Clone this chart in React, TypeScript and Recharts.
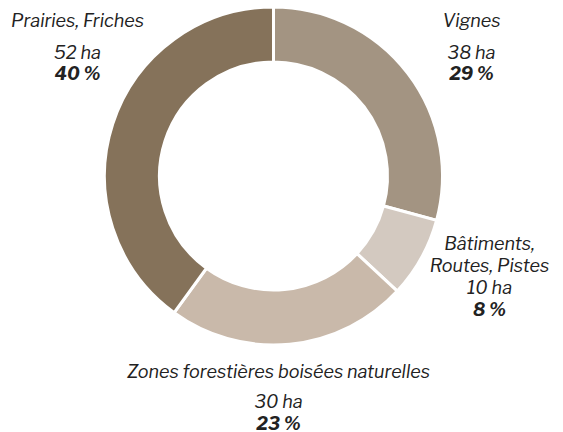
import { PieChart, Pie, Cell } from "recharts";

const categories = ["Vignes", "Bâtiments, Routes, Pistes", "Zones forestières boisées naturelles", "Prairies, Friches"];
const hectares = [38, 10, 30, 52];
const colors = ["#a39482", "#d3c9c0", "#c9b9aa", "#85725a"];

// label name lines (split as in the original)
const nameLines = [["Vignes"], ["Bâtiments,", "Routes, Pistes"], ["Zones forestières boisées naturelles"], ["Prairies, Friches"]];

const total = hectares.reduce((a, b) => a + b, 0);
const data = categories.map((name, i) => ({
  name,
  value: hectares[i],
  pct: Math.round((hectares[i] / total) * 100),
}));

// label anchor offsets from the pie centre, and gap after the name block
const LABEL_LAYOUT = [
  { dx: 198, dy: -149, gap: 31.5 },
  { dx: 216, dy: 74, gap: 22 },
  { dx: 5, dy: 202, gap: 30 },
  { dx: -196, dy: -149, gap: 31.5 },
];

const FONT = "'Libre Franklin', Roboto, 'Noto Sans', sans-serif";

function renderLabel(props: any) {
  const { cx, cy, index } = props;
  const l = LABEL_LAYOUT[index];
  const d = data[index];
  const x = cx + l.dx;
  const y = cy + l.dy;
  const lines = nameLines[index];
  const nameYs = lines.map((_, i) => y + i * 22);
  const valY = nameYs[nameYs.length - 1] + l.gap;
  const pctY = valY + 21.5;
  const common = {
    x,
    textAnchor: "middle" as const,
    fontFamily: FONT,
    fontStyle: "italic",
    fontSize: 18,
    fill: "#222",
  };
  return (
    <g key={`lbl-${index}`}>
      {lines.map((t, i) => (
        <text key={i} {...common} y={nameYs[i]}>
          {t}
        </text>
      ))}
      <text {...common} y={valY}>
        {d.value} ha
      </text>
      <text {...common} y={pctY} fontWeight={700}>
        {d.pct} %
      </text>
    </g>
  );
}

export default function App() {
  return (
    <div style={{ position: "absolute", left: 0, top: 0, width: 563, height: 432, background: "#fff" }}>
      <PieChart width={563} height={432} margin={{ top: 0, right: 0, bottom: 0, left: 0 }}>
        <Pie
          data={data}
          dataKey="value"
          nameKey="name"
          cx={273.5}
          cy={176}
          innerRadius={114}
          outerRadius={169}
          startAngle={90}
          endAngle={-270}
          stroke="#fff"
          strokeWidth={3}
          label={renderLabel}
          labelLine={false}
          isAnimationActive={false}
        >
          {data.map((_, i) => (
            <Cell key={i} fill={colors[i]} />
          ))}
        </Pie>
      </PieChart>
    </div>
  );
}
